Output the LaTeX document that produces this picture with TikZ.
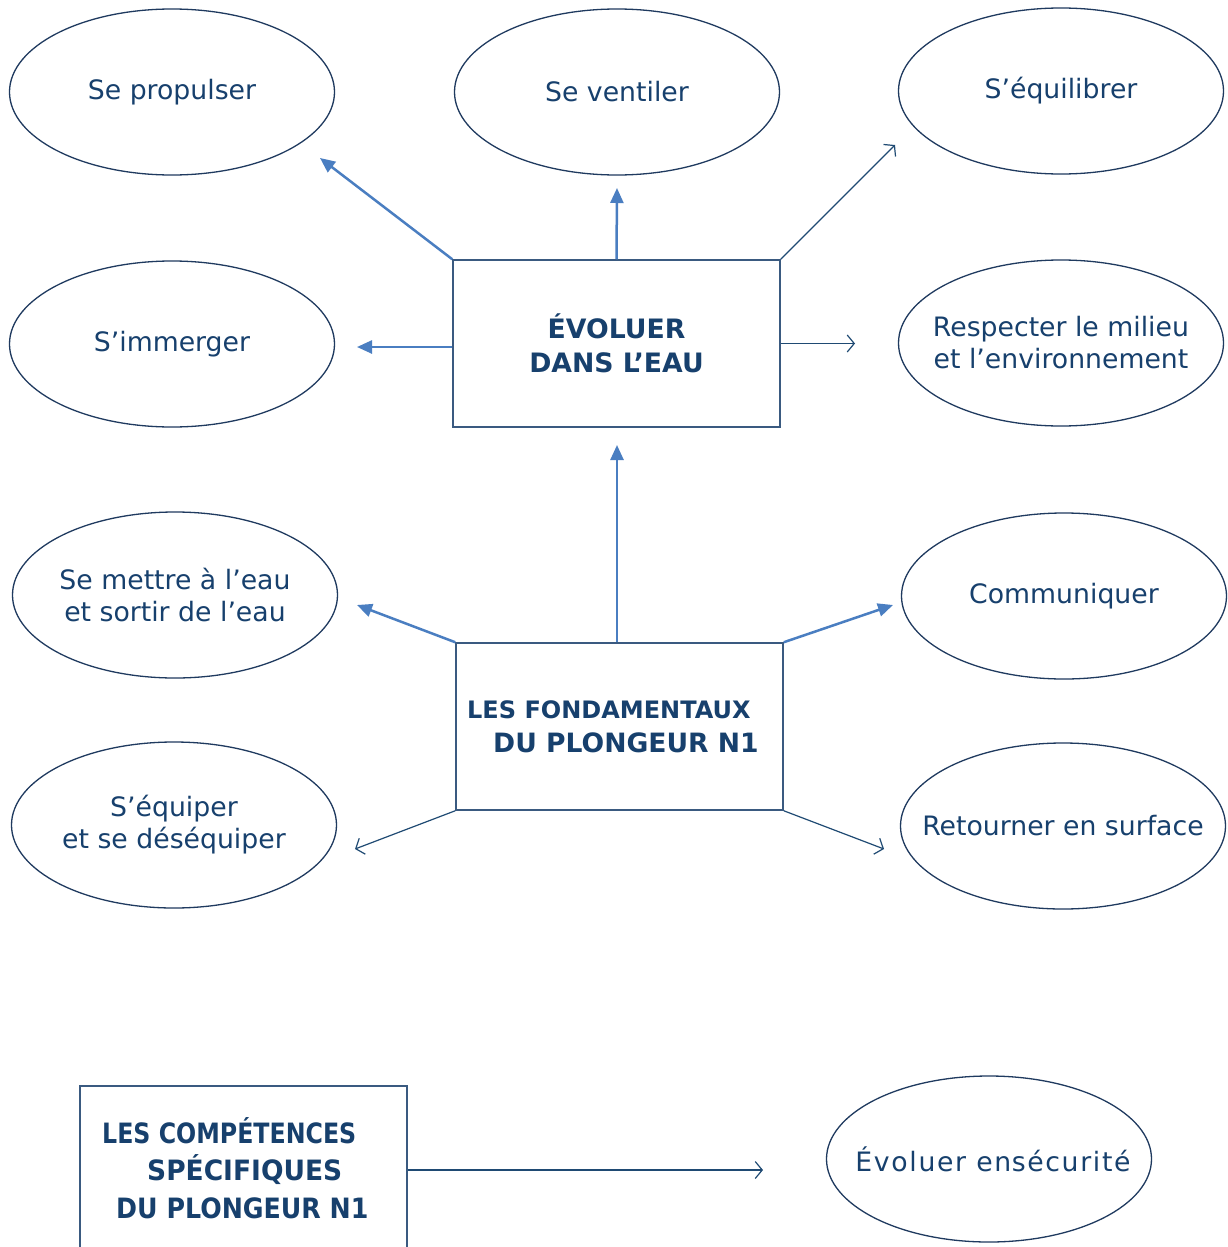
\documentclass[tikz,border=0pt]{standalone}
\usepackage{fontspec}
\setmainfont{DejaVu Sans}
\newfontfamily\condfont[FakeStretch=0.86]{DejaVu Sans}
\usetikzlibrary{shapes.geometric,arrows.meta}
\definecolor{txt}{HTML}{17406D}
\definecolor{ellc}{HTML}{1F3A5F}
\definecolor{boxc}{HTML}{3A5A80}
\definecolor{thickc}{HTML}{4A7EC1}
\definecolor{thinc}{HTML}{1F4A73}
\tikzset{
  oval/.style={ellipse, draw=ellc, line width=1.3pt, minimum width=325pt, minimum height=166pt, inner xsep=-80pt, inner ysep=-40pt, align=center, text=txt, font=\fontsize{26.7}{32}\selectfont},
  mainbox/.style={rectangle, draw=boxc, line width=1.5pt, minimum width=327pt, minimum height=167pt, inner sep=0pt, align=center, text=txt, font=\fontsize{25}{34}\selectfont\bfseries},
  plainbox/.style={rectangle, draw=boxc, line width=1.5pt, inner sep=0pt},
  boxtext/.style={inner sep=0pt, align=left, text=txt},
  thickarrow/.style={draw=thickc, line width=2.5pt, -{Triangle[length=15pt,width=13pt]}},
  thinarrow/.style={draw=thinc, line width=1.2pt, -{Straight Barb[length=7pt,width=17pt]}}
}
\begin{document}
\begin{tikzpicture}[x=1pt,y=-1pt]
\useasboundingbox (0,0) rectangle (1227,1247);
\fill[white] (0,0) rectangle (1227,1247);
\begin{scope}
\clip (0,0) rectangle (1227,1247);
% ellipses
\node[oval] (prop) at (172,92) {Se propulser};
\node[oval] (vent) at (617,92) {Se ventiler};
\node[oval] (equi) at (1061,91) {S’équilibrer};
\node[oval] (imm) at (172,344) {S’immerger};
\node[oval] (resp) at (1061,343) {Respecter le milieu\\et l’environnement};
\node[oval] (mettre) at (175,595) {Se mettre à l’eau\\et sortir de l’eau};
\node[oval] (comm) at (1064,596) {Communiquer};
\node[oval] (equip) at (174,825) {S’équiper\\et se déséquiper};
\node[oval] (ret) at (1063,826) {Retourner en surface};
\node[oval] (secu) at (989,1159) {\addfontfeature{LetterSpace=6.2}\hspace*{8pt}Évoluer en\hspace{0.5pt}sécurité};
% boxes
\node[mainbox, font=\fontsize{26.7}{34}\selectfont\bfseries] (evo) at (616.5,343.5) {ÉVOLUER\\DANS L’EAU};
\node[plainbox, minimum width=327pt, minimum height=167pt] (fond) at (619.5,726.5) {};
\node[boxtext, anchor=north west, font=\fontsize{25}{34}\selectfont\bfseries] (fondText) at (467,700) {{\fontsize{24}{34}\selectfont LES FONDAMENTAUX}\\\hspace*{26pt}{\fontsize{26.6}{34}\selectfont DU PLONGEUR N1}};
\node[plainbox, anchor=north west, minimum width=327pt, minimum height=180pt] (comp) at (79,1085) {};
\node[boxtext, anchor=north west, font=\fontsize{28}{37.5}\condfont\bfseries] (compText) at (102,1117) {\scalebox{0.984}[1]{LES COMPÉTENCES}\\\hspace*{45pt}\scalebox{1.1}[1]{SPÉCIFIQUES}\\\hspace*{14pt}\scalebox{1.05}[1]{DU PLONGEUR N1}};
% tips
\coordinate (tProp) at (320,158);
\coordinate (tVent) at (617,188);
\coordinate (tEqui) at (895,145);
\coordinate (tImm) at (357,347);
\coordinate (tResp) at (855,343.5);
\coordinate (tUp) at (617,445);
\coordinate (tMettre) at (357,605);
\coordinate (tComm) at (893,605);
\coordinate (tEquip) at (355,849);
\coordinate (tRet) at (884,849);
\coordinate (tSecu) at (763,1170);
% connectors
\draw[thickarrow] (evo.north west) -- (tProp);
\draw[thickarrow] (evo.north) -- (tVent);
\draw[thinarrow] (evo.north east) -- (tEqui);
\draw[thickarrow] (evo.west |- tImm) -- (tImm);
\draw[thinarrow] (evo.east) -- (tResp);
\draw[thickarrow] (tUp |- fond.north) -- (tUp);
\draw[thickarrow] (fond.north west) -- (tMettre);
\draw[thickarrow] (fond.north east) -- (tComm);
\draw[thinarrow] (fond.south west) -- (tEquip);
\draw[thinarrow] (fond.south east) -- (tRet);
\draw[thinarrow] (comp.east |- tSecu) -- (tSecu);
\end{scope}
\end{tikzpicture}
\end{document}
